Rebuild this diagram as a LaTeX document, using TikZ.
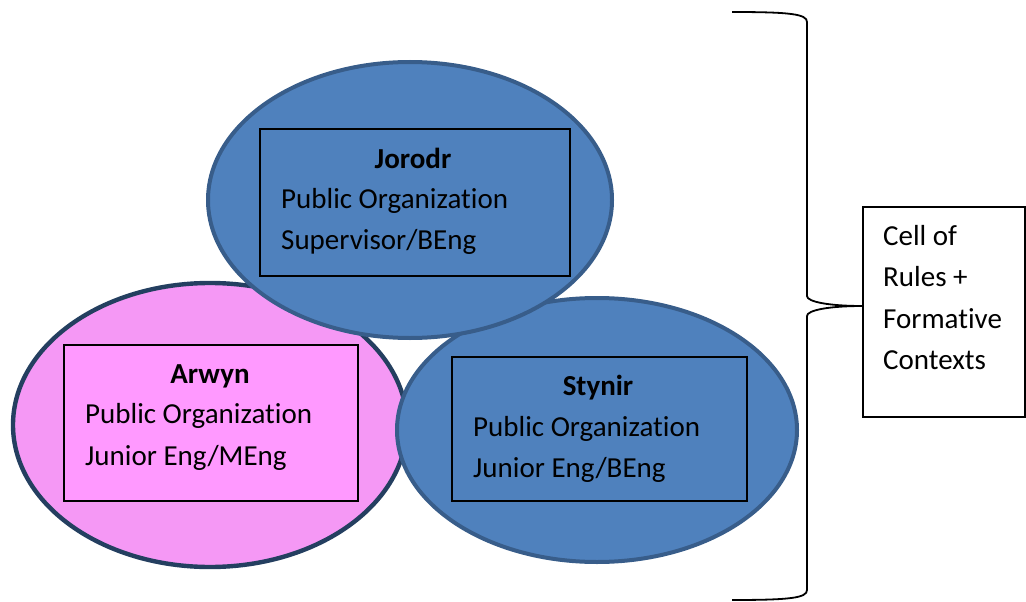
\documentclass[tikz,border=0pt]{standalone}
\usepackage{fontspec}
\setmainfont{Carlito}[Ligatures={NoCommon}]
\usetikzlibrary{shapes.geometric}
\definecolor{blueFill}{HTML}{4F81BD}
\definecolor{blueLine}{HTML}{385D8A}
\definecolor{pinkFill}{HTML}{F598F5}
\definecolor{pinkBox}{HTML}{FF99FF}
\definecolor{navyLine}{HTML}{243F60}
\begin{document}
\begin{tikzpicture}[x=1pt,y=-1pt,
  bubble/.style={ellipse,inner sep=0pt,line width=4pt},
  bluebubble/.style={bubble,draw=blueLine,fill=blueFill},
  pinkbubble/.style={bubble,draw=navyLine,fill=pinkFill,line width=4.4pt},
  card/.style={rectangle,draw=black,line width=1.3pt,inner sep=0pt},
  txt/.style={anchor=base west,inner sep=0pt,font=\fontsize{29}{34}\selectfont},
  ttl/.style={anchor=base,inner sep=0pt,font=\fontsize{29}{34}\selectfont\bfseries},
  bracket/.style={draw=black,line width=1.8pt}]
\useasboundingbox (0,0) rectangle (1026,602);

% bubbles, back to front
\node[pinkbubble,minimum width=394pt,minimum height=284pt] (arwynE) at (210,425) {};
\node[bluebubble,minimum width=400pt,minimum height=264pt] (stynirE) at (597,430) {};
\node[bluebubble,minimum width=404pt,minimum height=276pt] (jorodrE) at (410,200) {};

% cards
\node[card,fill=blueFill,minimum width=310pt,minimum height=147pt] (jorodrB) at (415,202.5) {};
\node[card,fill=pinkBox,minimum width=294pt,minimum height=156pt] (arwynB) at (211,423) {};
\node[card,fill=blueFill,minimum width=295pt,minimum height=144pt] (stynirB) at (599.5,429) {};

% card texts
\node[ttl] (jorodrT) at (413,168) {Jorodr};
\node[txt] (jorodr1) at (281,208) {Public Organization};
\node[txt] (jorodr2) at (281,249) {Supervisor/BEng};

\node[ttl] (arwynT) at (210,383) {Arwyn};
\node[txt] (arwyn1) at (85,423) {Public Organization};
\node[txt] (arwyn2) at (85,465) {Junior Eng/MEng};

\node[ttl] (stynirT) at (598,395) {Stynir};
\node[txt] (stynir1) at (473,436) {Public Organization};
\node[txt] (stynir2) at (473,477) {Junior Eng/BEng};

% rules box
\node[card,fill=white,line width=1.2pt,minimum width=162pt,minimum height=210pt] (rules) at (944,312) {};
\node[txt] (rules1) at (883,245) {Cell of};
\node[txt] (rules2) at (883,286) {Rules +};
\node[txt] (rules3) at (883,328) {Formative};
\node[txt] (rules4) at (883,369) {Contexts};

% right curly bracket
\coordinate (bTop) at (732,12);
\coordinate (bBot) at (732,600);
\coordinate (bTip) at (rules.west |- 0,306);
\draw[bracket] (bTop) .. controls (790,12) and (807,14) .. (807,22)
  -- (807,296) .. controls (807,302) and (830,306) .. (bTip)
  .. controls (830,306) and (807,310) .. (807,316)
  -- (807,590) .. controls (807,598) and (790,600) .. (bBot);
\end{tikzpicture}
\end{document}
